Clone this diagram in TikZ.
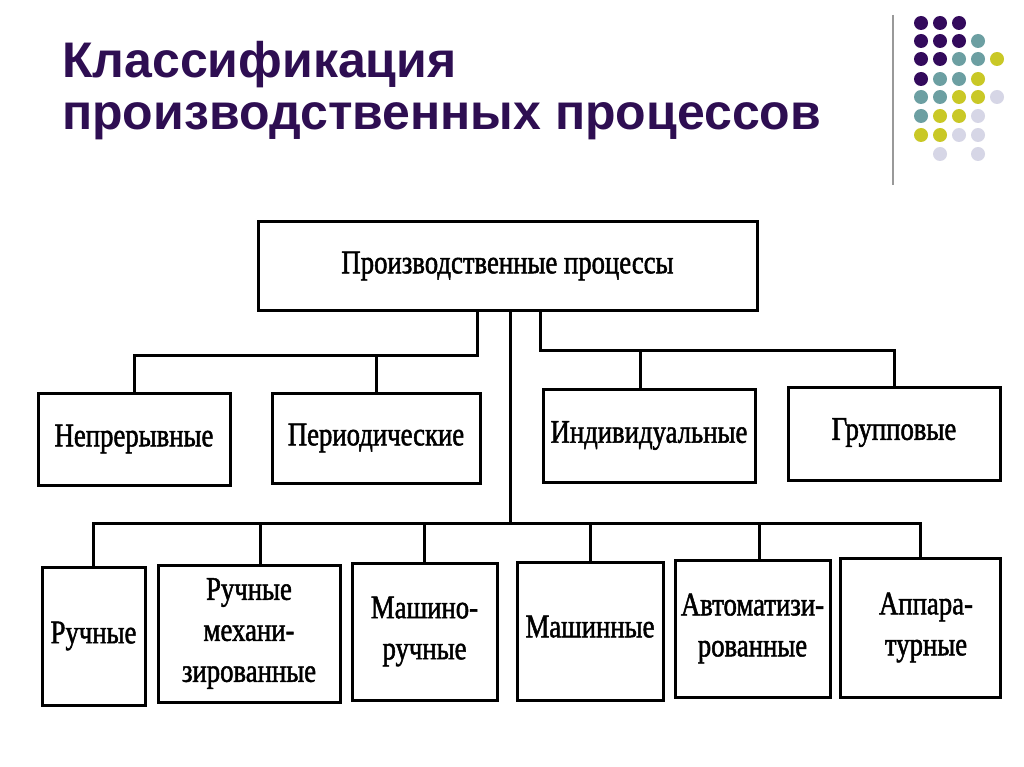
\documentclass[tikz,border=0pt]{standalone}
\usepackage{fontspec}
\setmainfont{Liberation Serif}
\newfontfamily\titlefont{Liberation Sans}
\newfontfamily\boxfont[FakeStretch=0.81,FakeBold=1.5]{Liberation Serif}
\definecolor{titlecol}{HTML}{2E0E52}
\definecolor{dpurple}{HTML}{330A5C}
\definecolor{dteal}{HTML}{6C9FA2}
\definecolor{dyellow}{HTML}{C9C826}
\definecolor{dlav}{HTML}{D6D6E6}
\tikzset{
  box/.style={draw, line width=3pt, rectangle, inner sep=0pt, align=center,
    font=\boxfont\fontsize{33}{41}\selectfont},
  conn/.style={line width=3pt},
  dot/.style={radius=7pt}
}
\begin{document}
\begin{tikzpicture}[x=1pt,y=-1pt]
\useasboundingbox[fill=white] (0,0) rectangle (1024,767);
% title
\node[anchor=base west, inner sep=0pt, align=left, text=titlecol,
  font=\titlefont\bfseries\fontsize{50}{52}\selectfont] (title) at (62,130)
  {Классификация\\производственных процессов};
% decoration
\draw[line width=1.3pt, gray!80] (893,15) -- (893,185);
\foreach \c/\x/\y in {
 dpurple/921/23, dpurple/940/23, dpurple/959/23,
 dpurple/921/41, dpurple/940/41, dpurple/959/41, dteal/978/41,
 dpurple/921/59, dpurple/940/59, dteal/959/59, dteal/978/59, dyellow/997/59,
 dpurple/921/79, dteal/940/79, dteal/959/79, dyellow/978/79,
 dteal/921/97, dteal/940/97, dyellow/959/97, dyellow/978/97, dlav/997/97,
 dteal/921/116, dyellow/940/116, dyellow/959/116, dlav/978/116,
 dyellow/921/135, dyellow/940/135, dlav/959/135, dlav/978/135,
 dlav/940/154, dlav/978/154}
 \fill[\c] (\x,\y) circle[dot];
% boxes
\node[box, minimum width=499pt, minimum height=88pt] (top) at (507.5,266) {Производственные процессы};
\node[box, minimum width=192pt, minimum height=92pt] (nep) at (134,439) {Непрерывные};
\node[box, minimum width=208pt, minimum height=90pt] (per) at (376,438) {Периодические};
\node[box, minimum width=212pt, minimum height=93pt] (ind) at (649,435.5) {Индивидуальные};
\node[box, minimum width=212pt, minimum height=93pt] (grp) at (894,433.5) {\raisebox{9pt}{Групповые}};
\node[box, minimum width=103pt, minimum height=138pt] (ru) at (93.5,636) {Ручные};
\node[box, minimum width=182pt, minimum height=137pt] (rm) at (249,633.5) {Ручные\\механи-\\зированные};
\node[box, minimum width=145pt, minimum height=137pt] (mr) at (424.5,631.5) {Машино-\\ручные};
\node[box, minimum width=146pt, minimum height=138pt] (ma) at (590,631) {\raisebox{9pt}{Машинные}};
\node[box, minimum width=155pt, minimum height=137pt] (av) at (752.5,628.5) {Автоматизи-\\рованные};
\node[box, minimum width=160pt, minimum height=139pt] (ap) at (920,627.5) {\hspace*{12pt}Аппара-\\\hspace*{12pt}турные};
% bus points
\coordinate (busL) at (477,355);
\coordinate (busR) at (540,350);
\coordinate (busB) at (510,523);
% connectors
\draw[conn] (top.south -| busL) -- (busL) -| (nep.north);
\draw[conn] (per.north) -- (per.north |- busL);
\draw[conn] (top.south -| busR) -- (busR) -| (grp.north);
\draw[conn] ([xshift=-9pt]ind.north) -- ([xshift=-9pt]ind.north |- busR);
\draw[conn] (top.south -| busB) -- (busB);
\draw[conn] (ru.north) |- (busB) -| (ap.north);
\draw[conn] ([xshift=11pt]rm.north) -- ([xshift=11pt]rm.north |- busB);
\draw[conn] (mr.north) -- (mr.north |- busB);
\draw[conn] (ma.north) -- (ma.north |- busB);
\draw[conn] ([xshift=7pt]av.north) -- ([xshift=7pt]av.north |- busB);
\end{tikzpicture}
\end{document}
